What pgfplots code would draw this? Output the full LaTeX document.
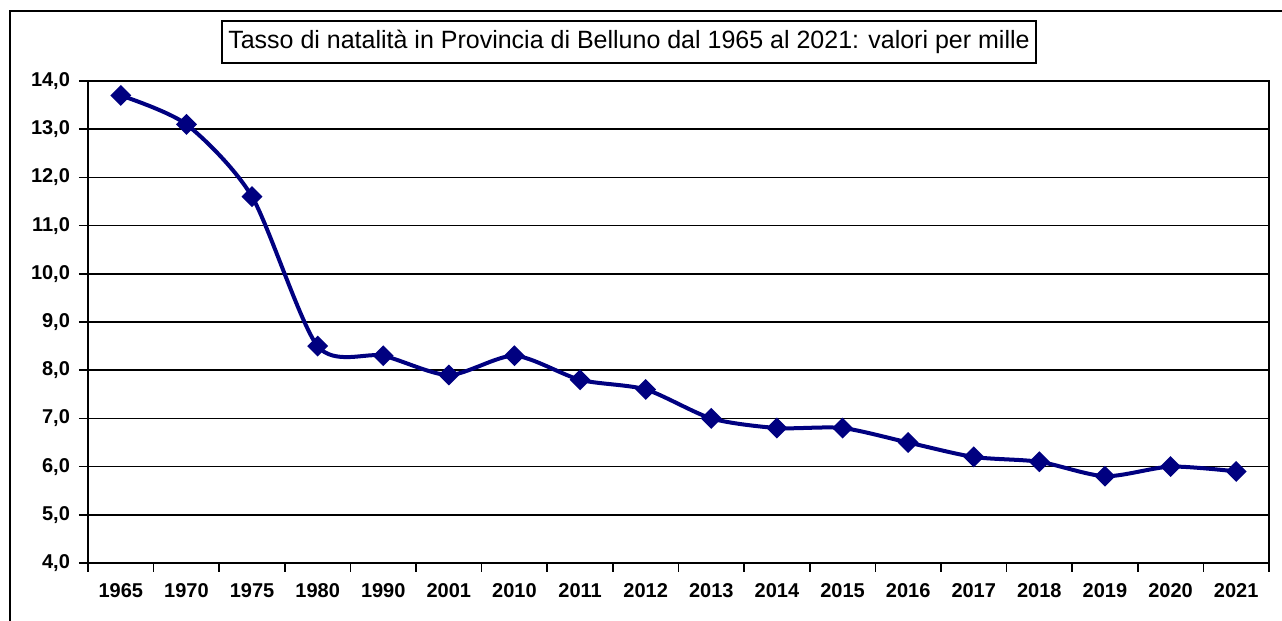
\documentclass[border=0pt]{standalone}
\usepackage{fontspec}
\setmainfont{Liberation Sans}
\newfontfamily\titlefont{Liberation Sans}
\usepackage{pgfplots}
\pgfplotsset{compat=1.18}
\definecolor{navyline}{HTML}{000080}
\begin{document}
\begin{tikzpicture}[x=1pt,y=1pt]
\useasboundingbox (0,0) rectangle (641,310.5);
\draw[line width=0.9pt] (5,0) -- (5,305) -- (641,305);
\begin{axis}[
  at={(44pt,29pt)}, anchor=south west,
  width=590.5pt, height=241pt, scale only axis,
  xmin=-0.5, xmax=17.5, ymin=4, ymax=14,
  xtick={0,...,17},
  xticklabels={1965,1970,1975,1980,1990,2001,2010,2011,2012,2013,2014,2015,2016,2017,2018,2019,2020,2021},
  minor xtick={-0.5,0.5,...,17.5},
  major x tick style={draw=none},
  ytick={4,5,...,14},
  ymajorgrids, grid style={black, line width=0.8pt},
  axis line style={black, line width=0.8pt},
  tick style={black, line width=0.8pt},
  tick align=outside, tick pos=left,
  major tick length=4.5pt, minor tick length=4.5pt,
  yticklabel style={/pgf/number format/fixed, /pgf/number format/fixed zerofill, /pgf/number format/precision=1, /pgf/number format/use comma, xshift=-1pt},
  /pgf/number format/assume math mode=true,
  ticklabel style={font=\fontsize{10}{12}\selectfont\bfseries, text=black},
  xticklabel style={yshift=-2pt},
  clip=false,
]
\addplot[navyline, line width=2pt, smooth, tension=0.45, mark=square*, mark size=2.7pt, mark options={rotate=45, solid, fill=navyline}]
coordinates {
(0,13.7) (1,13.1) (2,11.6) (3,8.5) (4,8.3) (5,7.9) (6,8.3) (7,7.8) (8,7.6)
(9,7.0) (10,6.8) (11,6.8) (12,6.5) (13,6.2) (14,6.1) (15,5.8) (16,6.0) (17,5.9)
};
\end{axis}
\node[draw=black, line width=0.7pt, minimum width=407pt, minimum height=21pt, inner sep=0pt, font=\titlefont\fontsize{12.5}{14}\selectfont] at (314.5,289.5) {Tasso di natalità in Provincia di Belluno dal 1965 al 2021: valori per mille};
\end{tikzpicture}
\end{document}
